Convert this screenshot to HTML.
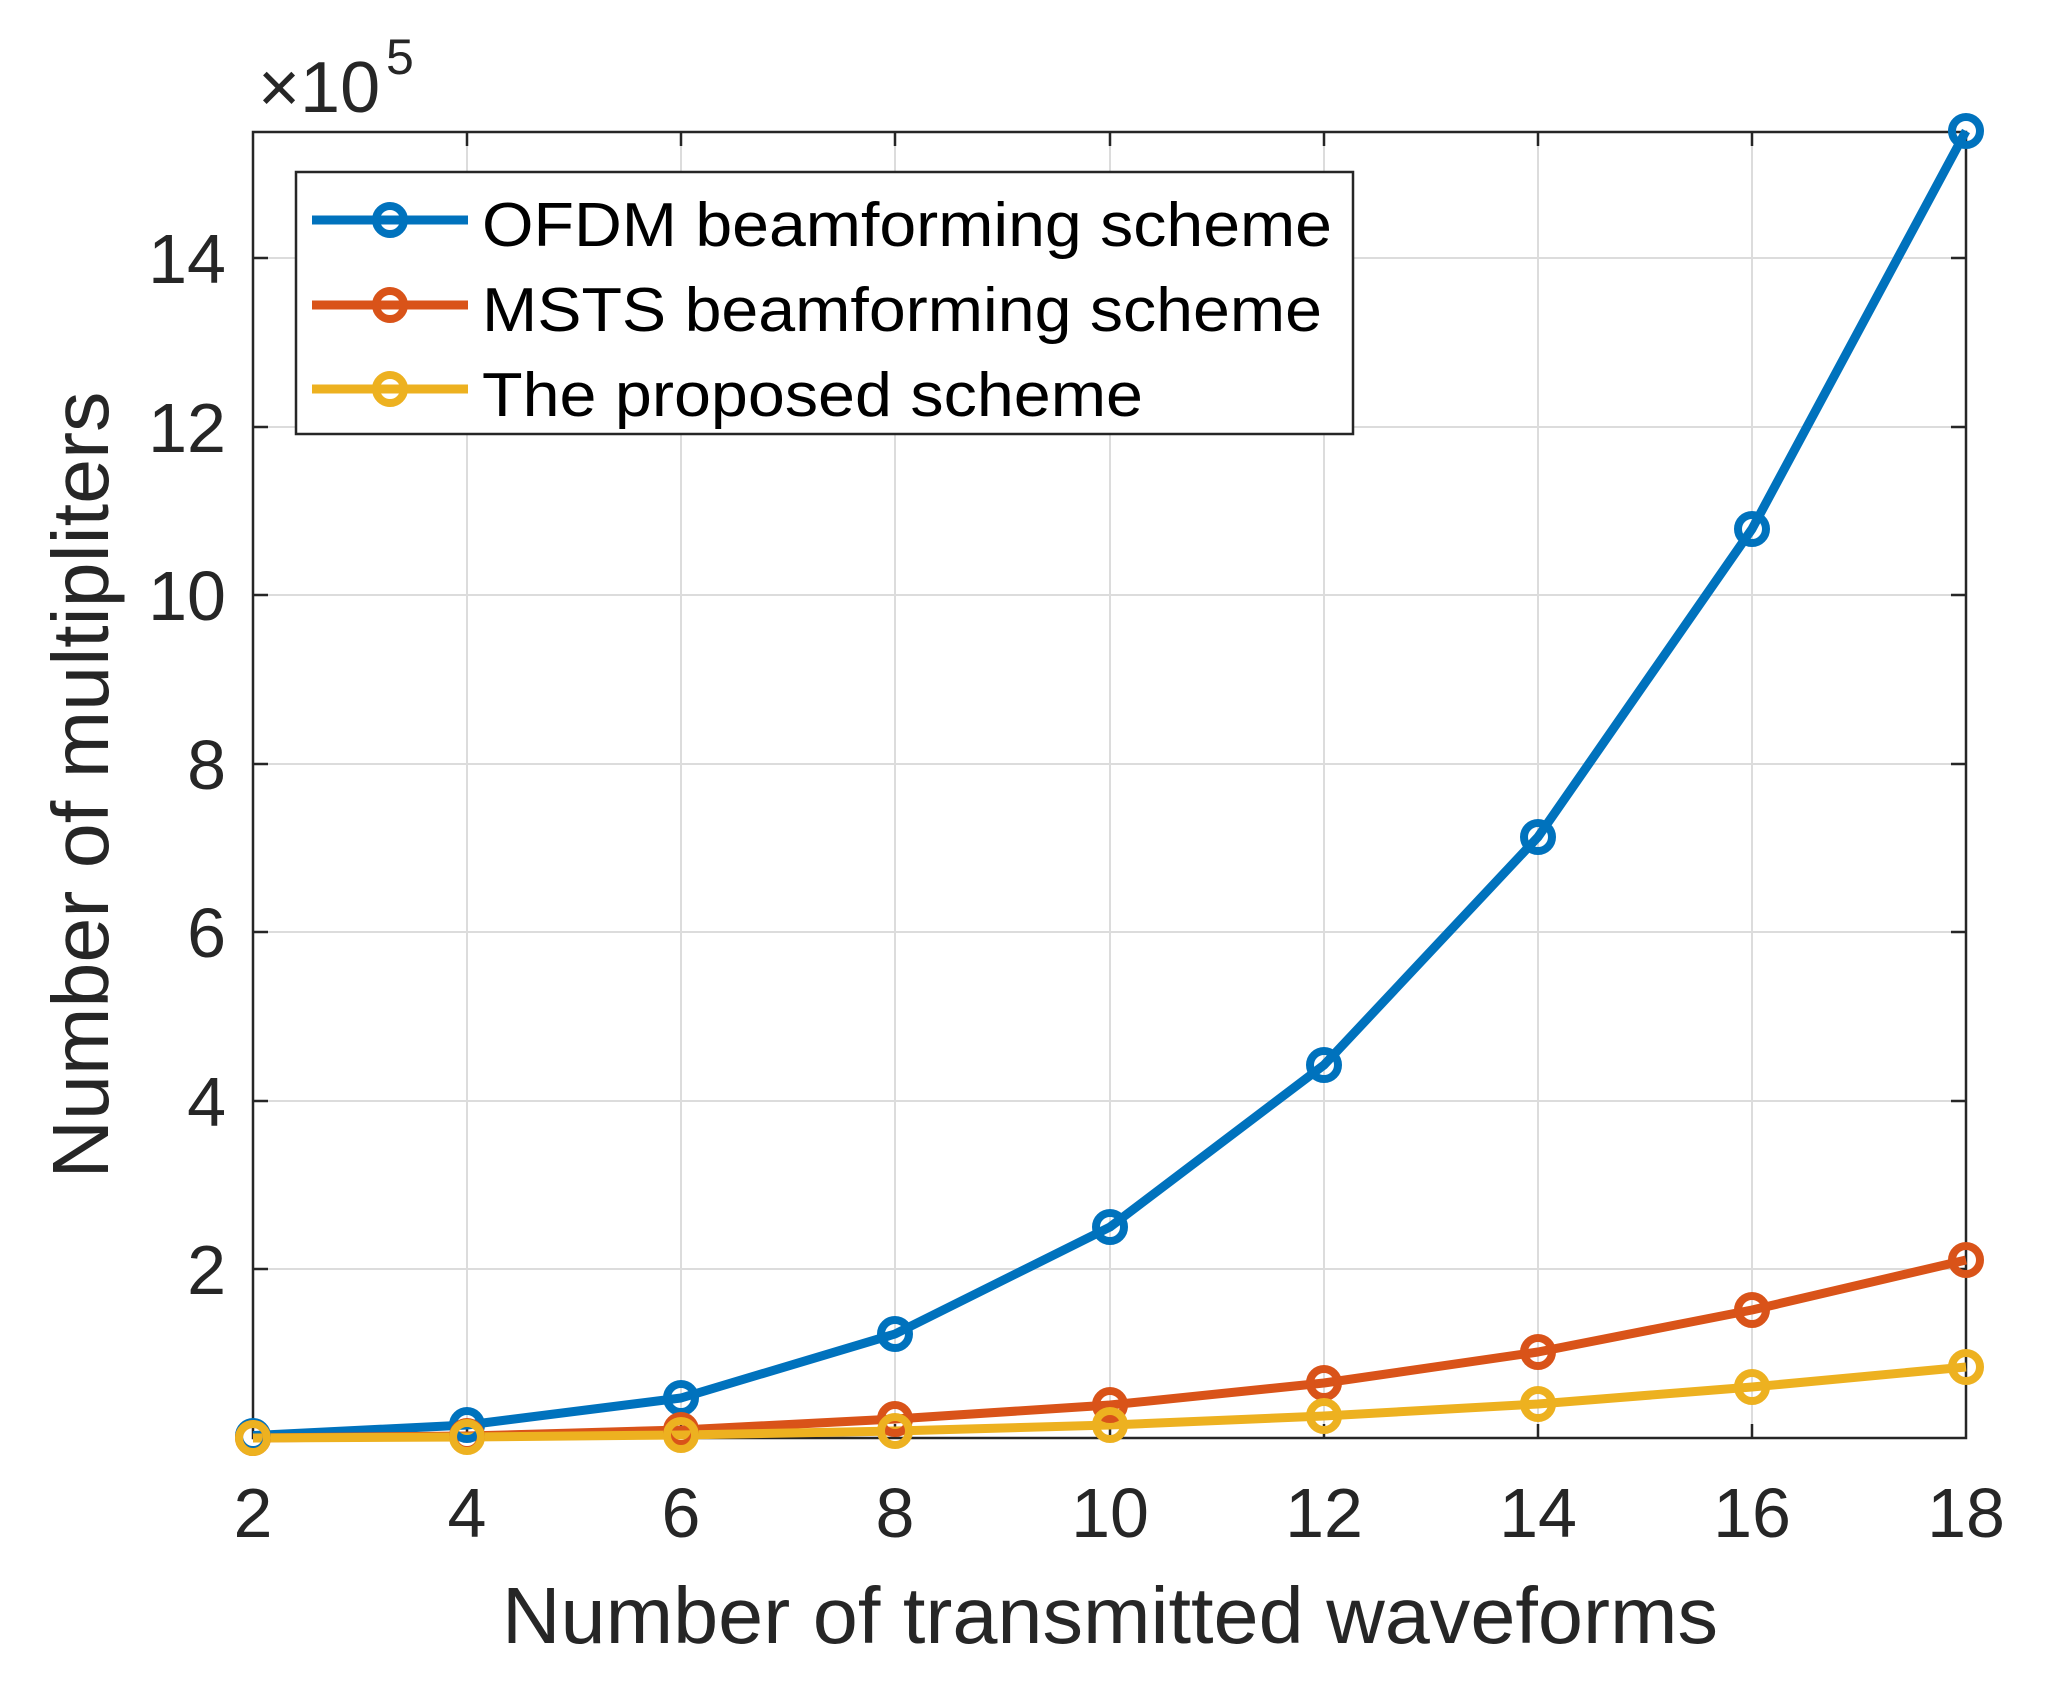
<!DOCTYPE html>
<html><head><meta charset="utf-8"><style>html,body{margin:0;padding:0;background:#fff}svg{display:block}</style></head>
<body>
<svg width="2047" height="1689" viewBox="0 0 2047 1689" xmlns="http://www.w3.org/2000/svg" font-family="'Liberation Sans', Arial, sans-serif">
<rect width="2047" height="1689" fill="#fff"/>
<g stroke="#dcdcdc" stroke-width="2">
<line x1="467" y1="132" x2="467" y2="1438"/><line x1="681" y1="132" x2="681" y2="1438"/><line x1="895" y1="132" x2="895" y2="1438"/><line x1="1110" y1="132" x2="1110" y2="1438"/><line x1="1324" y1="132" x2="1324" y2="1438"/><line x1="1538" y1="132" x2="1538" y2="1438"/><line x1="1752" y1="132" x2="1752" y2="1438"/>
<line x1="253" y1="1269" x2="1966" y2="1269"/><line x1="253" y1="1101" x2="1966" y2="1101"/><line x1="253" y1="932" x2="1966" y2="932"/><line x1="253" y1="764" x2="1966" y2="764"/><line x1="253" y1="595" x2="1966" y2="595"/><line x1="253" y1="427" x2="1966" y2="427"/><line x1="253" y1="258" x2="1966" y2="258"/>
</g>
<g stroke="#262626" stroke-width="2.5">
<path d="M467 1438v-14M681 1438v-14M895 1438v-14M1110 1438v-14M1324 1438v-14M1538 1438v-14M1752 1438v-14"/>
<path d="M467 132v14M681 132v14M895 132v14M1110 132v14M1324 132v14M1538 132v14M1752 132v14"/>
<path d="M253 1269h15M253 1101h15M253 932h15M253 764h15M253 595h15M253 427h15M253 258h15"/>
<path d="M1966 1269h-15M1966 1101h-15M1966 932h-15M1966 764h-15M1966 595h-15M1966 427h-15M1966 258h-15"/>
</g>
<rect x="253" y="132" width="1713" height="1306" fill="none" stroke="#262626" stroke-width="2.5"/>
<g fill="none" stroke-width="9" stroke-linejoin="round">
<polyline stroke="#0072bd" points="253,1435.5 467,1425 681,1398 895,1334 1110,1227 1324,1065 1538,837 1752,529 1966,131"/>
<polyline stroke="#d95319" points="253,1438 467,1436 681,1430 895,1419 1110,1405 1324,1383 1538,1352 1752,1310 1966,1260"/>
<polyline stroke="#edb120" points="253,1438 467,1437 681,1435 895,1431 1110,1425 1324,1416 1538,1404 1752,1387 1966,1367"/>
</g>
<g fill="none" stroke-width="8">
<g stroke="#0072bd"><circle cx="253" cy="1436" r="14"/><circle cx="467" cy="1425" r="14"/><circle cx="681" cy="1398" r="14"/><circle cx="895" cy="1334" r="14"/><circle cx="1110" cy="1227" r="14"/><circle cx="1324" cy="1065" r="14"/><circle cx="1538" cy="837" r="14"/><circle cx="1752" cy="529" r="14"/><circle cx="1966" cy="131" r="14"/></g>
<g stroke="#d95319"><circle cx="253" cy="1438" r="14"/><circle cx="467" cy="1436" r="14"/><circle cx="681" cy="1430" r="14"/><circle cx="895" cy="1419" r="14"/><circle cx="1110" cy="1405" r="14"/><circle cx="1324" cy="1383" r="14"/><circle cx="1538" cy="1352" r="14"/><circle cx="1752" cy="1310" r="14"/><circle cx="1966" cy="1260" r="14"/></g>
<g stroke="#edb120"><circle cx="253" cy="1438" r="14"/><circle cx="467" cy="1437" r="14"/><circle cx="681" cy="1435" r="14"/><circle cx="895" cy="1431" r="14"/><circle cx="1110" cy="1425" r="14"/><circle cx="1324" cy="1416" r="14"/><circle cx="1538" cy="1404" r="14"/><circle cx="1752" cy="1387" r="14"/><circle cx="1966" cy="1367" r="14"/></g>
</g>
<rect x="296" y="172" width="1057" height="262" fill="#fff" stroke="#262626" stroke-width="2.5"/>
<g stroke-width="9" fill="none">
<line x1="312" y1="220" x2="468" y2="220" stroke="#0072bd"/><circle cx="390" cy="220" r="14" stroke="#0072bd" stroke-width="8"/>
<line x1="312" y1="305" x2="468" y2="305" stroke="#d95319"/><circle cx="390" cy="305" r="14" stroke="#d95319" stroke-width="8"/>
<line x1="312" y1="389" x2="468" y2="389" stroke="#edb120"/><circle cx="390" cy="389" r="14" stroke="#edb120" stroke-width="8"/>
</g>
<g font-size="62" fill="#000">
<text x="482" y="246" textLength="850" lengthAdjust="spacingAndGlyphs">OFDM beamforming scheme</text>
<text x="482" y="331" textLength="840" lengthAdjust="spacingAndGlyphs">MSTS beamforming scheme</text>
<text x="482" y="416" textLength="661" lengthAdjust="spacingAndGlyphs">The proposed scheme</text>
</g>
<g font-size="70" fill="#262626" text-anchor="middle">
<text x="253" y="1537">2</text><text x="467" y="1537">4</text><text x="681" y="1537">6</text><text x="895" y="1537">8</text><text x="1110" y="1537">10</text><text x="1324" y="1537">12</text><text x="1538" y="1537">14</text><text x="1752" y="1537">16</text><text x="1966" y="1537">18</text>
</g>
<g font-size="70" fill="#262626" text-anchor="end">
<text x="226" y="1294">2</text><text x="226" y="1126">4</text><text x="226" y="957">6</text><text x="226" y="789">8</text><text x="226" y="620">10</text><text x="226" y="452">12</text><text x="226" y="283">14</text>
</g>
<text x="258" y="112" font-size="72" fill="#262626">×10</text>
<text x="386" y="74" font-size="50" fill="#262626">5</text>
<text x="1110" y="1643" font-size="80" fill="#262626" text-anchor="middle" textLength="1216" lengthAdjust="spacingAndGlyphs">Number of transmitted waveforms</text>
<text transform="translate(108,785) rotate(-90)" font-size="80" fill="#262626" text-anchor="middle" textLength="787" lengthAdjust="spacingAndGlyphs">Number of multipliters</text>
</svg>
</body></html>
